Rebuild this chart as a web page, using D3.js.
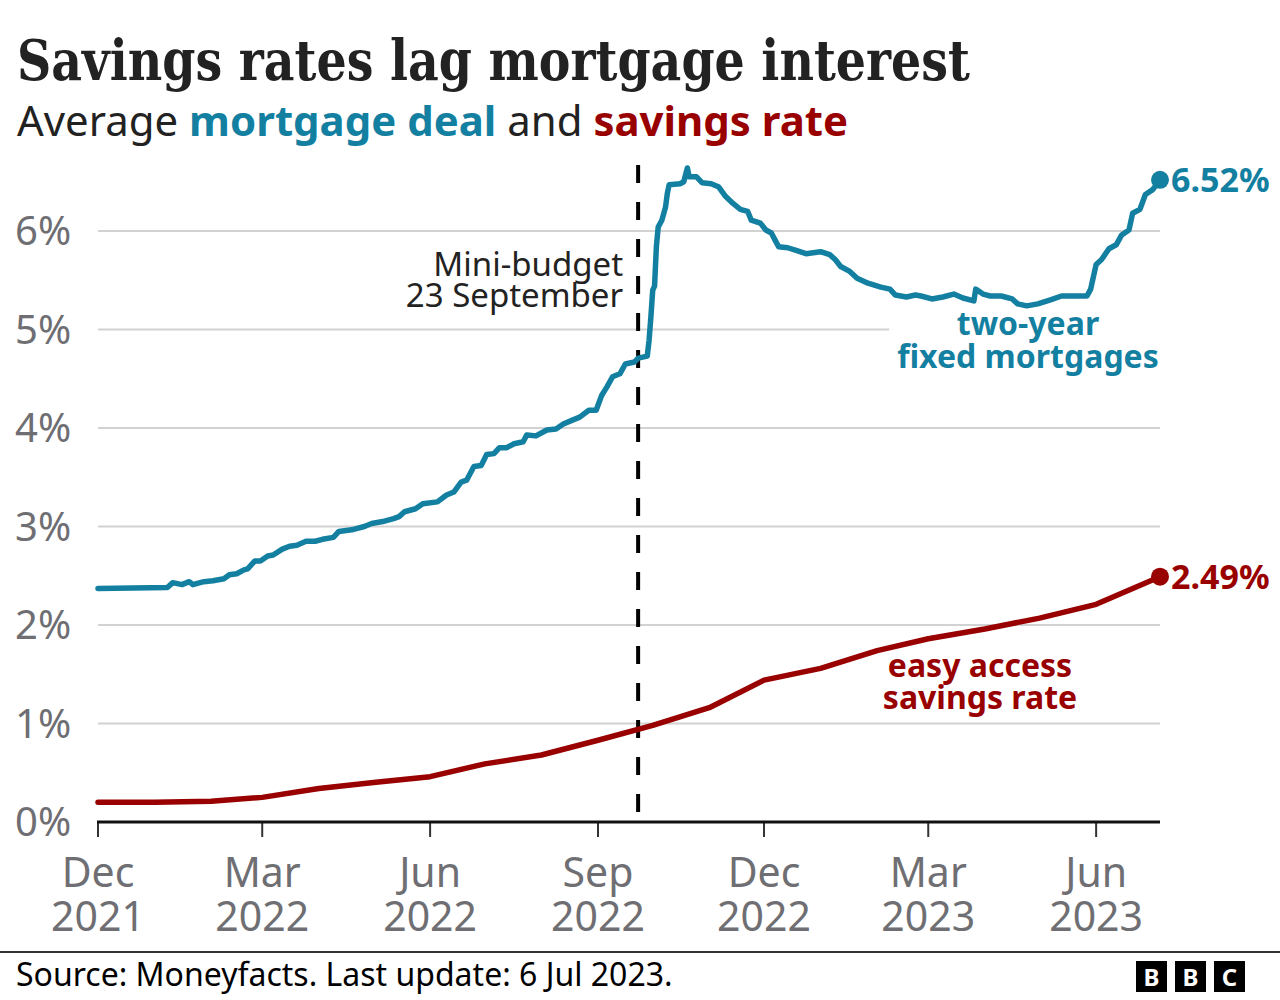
<!DOCTYPE html>
<html>
<head>
<meta charset="utf-8">
<script src="https://cdn.jsdelivr.net/npm/d3@7"></script>
<style>
  html, body { margin: 0; padding: 0; background: #fff; }
  svg { display: block; }
</style>
</head>
<body>
<svg id="chart" width="1280" height="1000"></svg>
<script>
// ---------------- DATA ----------------
const mortgage = [
  ["2021-12-01",2.37],["2022-01-08",2.38],["2022-01-11",2.43],["2022-01-16",2.41],["2022-01-20",2.44],
  ["2022-01-22",2.41],["2022-01-28",2.44],["2022-02-02",2.45],["2022-02-08",2.47],["2022-02-11",2.51],
  ["2022-02-15",2.52],["2022-02-19",2.56],["2022-02-21",2.57],["2022-02-25",2.65],["2022-02-28",2.65],
  ["2022-03-04",2.70],["2022-03-07",2.71],["2022-03-12",2.77],["2022-03-16",2.80],["2022-03-20",2.81],
  ["2022-03-25",2.85],["2022-03-30",2.85],["2022-04-03",2.87],["2022-04-09",2.89],["2022-04-12",2.95],
  ["2022-04-20",2.97],["2022-04-26",3.00],["2022-04-30",3.03],["2022-05-06",3.05],["2022-05-12",3.08],
  ["2022-05-15",3.10],["2022-05-18",3.15],["2022-05-24",3.18],["2022-05-28",3.23],["2022-06-05",3.25],
  ["2022-06-10",3.32],["2022-06-14",3.35],["2022-06-18",3.45],["2022-06-21",3.47],["2022-06-25",3.61],
  ["2022-06-29",3.62],["2022-07-02",3.73],["2022-07-06",3.74],["2022-07-09",3.80],["2022-07-13",3.80],
  ["2022-07-17",3.84],["2022-07-22",3.86],["2022-07-24",3.93],["2022-07-29",3.92],["2022-08-04",3.98],
  ["2022-08-09",3.99],["2022-08-13",4.04],["2022-08-18",4.08],["2022-08-22",4.11],["2022-08-27",4.18],
  ["2022-08-31",4.18],["2022-09-03",4.33],["2022-09-06",4.42],["2022-09-09",4.52],["2022-09-13",4.55],
  ["2022-09-16",4.65],["2022-09-21",4.67],["2022-09-23",4.71],["2022-09-28",4.73],["2022-09-29",4.89],
  ["2022-09-30",5.13],["2022-10-01",5.40],["2022-10-02",5.44],["2022-10-03",5.84],["2022-10-04",6.04],
  ["2022-10-06",6.11],["2022-10-08",6.24],["2022-10-09",6.38],["2022-10-10",6.47],["2022-10-16",6.48],
  ["2022-10-18",6.50],["2022-10-20",6.64],["2022-10-21",6.55],["2022-10-25",6.55],["2022-10-28",6.49],
  ["2022-11-02",6.48],["2022-11-06",6.45],["2022-11-10",6.35],["2022-11-14",6.28],["2022-11-18",6.22],
  ["2022-11-22",6.20],["2022-11-24",6.11],["2022-11-29",6.08],["2022-12-02",6.01],["2022-12-05",5.98],
  ["2022-12-07",5.91],["2022-12-09",5.84],["2022-12-14",5.83],["2022-12-19",5.80],["2022-12-24",5.77],
  ["2023-01-01",5.79],["2023-01-06",5.76],["2023-01-09",5.71],["2023-01-12",5.64],["2023-01-17",5.59],
  ["2023-01-21",5.52],["2023-01-27",5.47],["2023-02-03",5.43],["2023-02-08",5.41],["2023-02-11",5.35],
  ["2023-02-17",5.33],["2023-02-22",5.35],["2023-02-25",5.34],["2023-03-03",5.31],["2023-03-09",5.33],
  ["2023-03-15",5.36],["2023-03-20",5.32],["2023-03-26",5.29],["2023-03-27",5.41],["2023-03-31",5.36],
  ["2023-04-04",5.34],["2023-04-10",5.34],["2023-04-16",5.31],["2023-04-19",5.26],["2023-04-24",5.24],
  ["2023-04-30",5.26],["2023-05-07",5.30],["2023-05-13",5.34],["2023-05-19",5.34],["2023-05-27",5.34],
  ["2023-05-29",5.41],["2023-06-01",5.66],["2023-06-04",5.71],["2023-06-08",5.82],["2023-06-12",5.86],
  ["2023-06-15",5.96],["2023-06-19",6.01],["2023-06-21",6.18],["2023-06-25",6.22],["2023-06-28",6.37],
  ["2023-07-02",6.42],["2023-07-06",6.52]
];

const savings = [
  ["2021-12-01",0.20],["2022-01-01",0.20],["2022-02-01",0.21],["2022-03-01",0.25],["2022-04-01",0.34],
  ["2022-05-01",0.40],["2022-06-01",0.46],["2022-07-01",0.59],["2022-08-01",0.68],["2022-09-01",0.83],
  ["2022-10-01",0.98],["2022-11-01",1.16],["2022-12-01",1.44],["2023-01-01",1.56],["2023-02-01",1.74],
  ["2023-03-01",1.86],["2023-04-01",1.96],["2023-05-01",2.07],["2023-06-01",2.21],["2023-07-06",2.49]
];

const yTicks = [0, 1, 2, 3, 4, 5, 6];
const xTickDates = ["2021-12-01","2022-03-01","2022-06-01","2022-09-01","2022-12-01","2023-03-01","2023-06-01"];
const xTickLabels = [["Dec","2021"],["Mar","2022"],["Jun","2022"],["Sep","2022"],["Dec","2022"],["Mar","2023"],["Jun","2023"]];
const domainDates = ["2021-12-01","2023-07-06"];
const eventDate = "2022-09-23";
const eventLabel = ["Mini-budget","23 September"];
const mortgageLabel = ["two-year","fixed mortgages"];
const savingsLabel = ["easy access","savings rate"];
const titleText = "Savings rates lag mortgage interest";
const sourceText = "Source: Moneyfacts. Last update: 6 Jul 2023.";

// ---------------- STYLE ----------------
const TEAL = "#1380A1", RED = "#990000", GREY = "#6e6e73", INK = "#222222";
const SANS = "'Noto Sans', 'Open Sans', sans-serif";
const SERIF = "'DejaVu Serif', serif";

const parse = d3.utcParse("%Y-%m-%d");
const svg = d3.select("#chart");

const x = d3.scaleUtc().domain(domainDates.map(parse)).range([98, 1160]);
const y = d3.scaleLinear().domain([0, 6]).range([822, 231]);

// Title
const title = svg.append("text").attr("x", 17).attr("y", 80)
  .attr("font-family", SERIF).attr("font-weight", 700).attr("font-size", 56)
  .attr("fill", INK).text(titleText);
{
  const w = title.node().getComputedTextLength();
  if (w > 953) title.attr("textLength", 953).attr("lengthAdjust", "spacingAndGlyphs");
}

// Subtitle
const sub = svg.append("text").attr("x", 17).attr("y", 136)
  .attr("font-family", SANS).attr("font-size", 42).attr("fill", INK);
sub.append("tspan").text("Average ");
sub.append("tspan").attr("font-weight", 700).attr("fill", TEAL).text("mortgage deal");
sub.append("tspan").text(" and ");
sub.append("tspan").attr("font-weight", 700).attr("fill", RED).text("savings rate");
{
  const w = sub.node().getComputedTextLength();
  if (w > 831) sub.attr("textLength", 831).attr("lengthAdjust", "spacingAndGlyphs");
}

// Gridlines
const grid = svg.append("g");
grid.selectAll("line").data(yTicks.filter(t => t > 0)).join("line")
  .attr("x1", x.range()[0]).attr("x2", x.range()[1])
  .attr("y1", d => y(d)).attr("y2", d => y(d))
  .attr("stroke", "#d2d2d2").attr("stroke-width", 2);

// Y labels
svg.append("g").selectAll("text").data(yTicks).join("text")
  .attr("x", 15).attr("y", d => y(d)).attr("dy", "0.36em")
  .attr("font-family", SANS).attr("font-size", 40).attr("fill", GREY)
  .text(d => d + "%");

// Event dashed line
const ex = x(parse(eventDate));
svg.append("line").attr("x1", ex).attr("x2", ex).attr("y1", 165).attr("y2", y(0))
  .attr("stroke", "#000").attr("stroke-width", 4).attr("stroke-dasharray", "18,19");

// Multi-line labels as separate text rows
function rows(g, lines, xPos, y0, dy, attrs) {
  lines.forEach((t, i) => {
    const el = g.append("text").attr("x", xPos).attr("y", y0 + i * dy).text(t);
    Object.entries(attrs).forEach(([k, v]) => el.attr(k, v));
  });
}

const evtG = svg.append("g");
rows(evtG, eventLabel, ex - 15, 276, 31,
  {"text-anchor": "end", "font-family": SANS, "font-size": 33, "fill": INK});

// Mortgage label (with white backing to interrupt gridline)
const mG = svg.append("g");
rows(mG, mortgageLabel, 1028, 335, 33,
  {"text-anchor": "middle", "font-family": SANS, "font-weight": 700, "font-size": 32, "fill": TEAL});
{
  const bb = mG.node().getBBox();
  mG.insert("rect", "text").attr("x", bb.x - 8).attr("y", bb.y + 8).attr("width", bb.width + 16)
    .attr("height", bb.height - 8).attr("fill", "#fff");
}

// Savings label
const sG = svg.append("g");
rows(sG, savingsLabel, 980, 677, 32,
  {"text-anchor": "middle", "font-family": SANS, "font-weight": 700, "font-size": 32, "fill": RED});

// Lines
const line = d3.line().x(d => x(parse(d[0]))).y(d => y(d[1])).curve(d3.curveLinear);
svg.append("path").datum(mortgage).attr("d", line).attr("fill", "none")
  .attr("stroke", TEAL).attr("stroke-width", 5.5).attr("stroke-linejoin", "round").attr("stroke-linecap", "round");
svg.append("path").datum(savings).attr("d", line).attr("fill", "none")
  .attr("stroke", RED).attr("stroke-width", 5.5).attr("stroke-linejoin", "round").attr("stroke-linecap", "round");

// End dots and labels
[[mortgage, TEAL], [savings, RED]].forEach(([s, c]) => {
  const last = s[s.length - 1];
  svg.append("circle").attr("cx", x(parse(last[0]))).attr("cy", y(last[1])).attr("r", 9).attr("fill", c);
  svg.append("text").attr("x", x(parse(last[0])) + 11).attr("y", y(last[1])).attr("dy", "0.36em")
    .attr("font-family", SANS).attr("font-weight", 700).attr("font-size", 34).attr("fill", c)
    .text(last[1].toFixed(2) + "%");
});

// X axis
const xAxis = svg.append("g");
xAxis.selectAll("line.tick").data(xTickDates).join("line").attr("class", "tick")
  .attr("x1", d => x(parse(d))).attr("x2", d => x(parse(d)))
  .attr("y1", y(0)).attr("y2", y(0) + 15).attr("stroke", "#333").attr("stroke-width", 2);
xAxis.append("line").attr("x1", x.range()[0] - 1).attr("x2", x.range()[1])
  .attr("y1", y(0)).attr("y2", y(0)).attr("stroke", "#111").attr("stroke-width", 3);
xTickDates.forEach((d, i) => {
  rows(xAxis, xTickLabels[i], x(parse(d)), 887, 44,
    {"text-anchor": "middle", "font-family": SANS, "font-size": 41, "fill": GREY});
});

// Footer
svg.append("line").attr("x1", 0).attr("x2", 1280).attr("y1", 952).attr("y2", 952)
  .attr("stroke", "#333").attr("stroke-width", 2);
svg.append("text").attr("x", 16).attr("y", 986).attr("font-family", SANS).attr("font-size", 32)
  .attr("fill", "#000").text(sourceText);

const logo = svg.append("g");
["B","B","C"].forEach((l, i) => {
  const lx = 1136 + i * 39;
  logo.append("rect").attr("x", lx).attr("y", 961).attr("width", 31).attr("height", 31).attr("fill", "#000");
  logo.append("text").attr("x", lx + 15.5).attr("y", 986).attr("text-anchor", "middle")
    .attr("font-family", SANS).attr("font-weight", 700).attr("font-size", 24).attr("fill", "#fff").text(l);
});
</script>
</body>
</html>
